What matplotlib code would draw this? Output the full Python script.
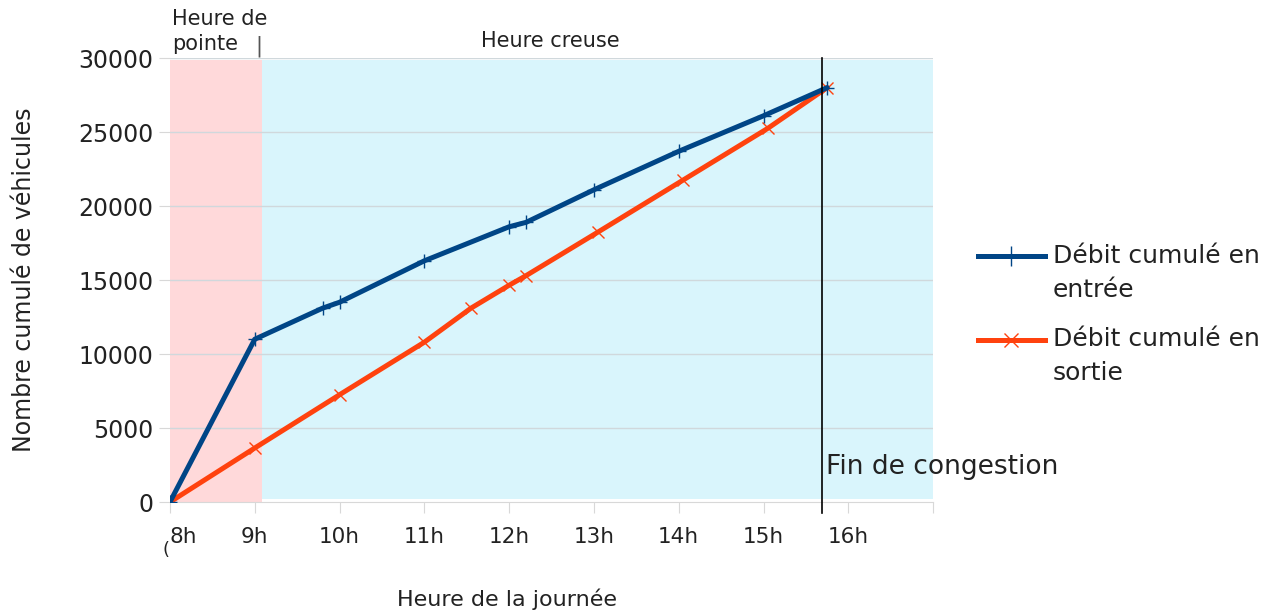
import matplotlib
matplotlib.use("Agg")
import matplotlib.pyplot as plt
from matplotlib.lines import Line2D
from matplotlib.transforms import ScaledTranslation

plt.rcParams['font.family'] = ['DejaVu Sans']

# Data
hours_in = [8, 9, 9.8, 10, 11, 12, 12.2, 13, 14, 15, 15.75]
cum_in = [0, 11000, 13100, 13500, 16300, 18600, 18900, 21100, 23700, 26100, 28000]
hours_out = [8, 9, 10, 11, 11.55, 12, 12.2, 13.05, 14.05, 15.05, 15.75]
cum_out = [0, 3650, 7250, 10800, 13100, 14650, 15300, 18250, 21750, 25250, 28000]
tick_hours = [8, 9, 10, 11, 12, 13, 14, 15, 16]
tick_labels = ["8h", "9h", "10h", "11h", "12h", "13h", "14h", "15h", "16h"]
y_ticks = [0, 5000, 10000, 15000, 20000, 25000, 30000]
peak_start, peak_end, offpeak_end = 8, 9.08, 17
congestion_end = 15.69

blue = '#004586'
red = '#ff420e'
text_c = '#222222'

fig = plt.figure(figsize=(12.72, 6.13), dpi=100)
ax = fig.add_axes([0.1336, 0.181, 0.6, 0.7243])

ax.axvspan(peak_start, peak_end, ymin=0, ymax=0.995, color='#ffd9da', lw=0, zorder=0)
ax.axvspan(peak_end, offpeak_end, ymin=0.007, ymax=0.995, color='#d9f5fc', lw=0, zorder=0)

for y in y_ticks[1:]:
    ax.axhline(y, color='#d0d8dc', lw=1, zorder=1)

ax.plot(hours_out, cum_out, color=red, lw=3.6, marker='x', ms=8, mew=1,
        zorder=3, solid_capstyle='round')
ax.plot(hours_in, cum_in, color=blue, lw=3.6, marker='+', ms=10, mew=1,
        zorder=4, solid_capstyle='round')

ax.axvline(congestion_end, ymin=-0.025, ymax=1.0, color='black', lw=1.2,
           zorder=5, clip_on=False)

ax.set_xlim(8, 17)
ax.set_ylim(0, 30000)
ax.set_xticks(tick_hours + [17])
ax.set_xticklabels(tick_labels + [""])
ax.set_yticks(y_ticks)
ax.set_yticklabels([str(v) for v in y_ticks])

for s in ['top', 'right', 'left']:
    ax.spines[s].set_visible(False)
ax.spines['bottom'].set_color('#d8d8d8')
ax.tick_params(axis='x', length=8, color='#d8d8d8', labelsize=15.5, pad=10,
               labelcolor=text_c)
ax.tick_params(axis='y', length=8, color='#d8d8d8', labelsize=17, pad=4,
               labelcolor=text_c)

# shift the first x tick label slightly right, as in the reference
first = ax.get_xticklabels()[0]
first.set_transform(first.get_transform() + ScaledTranslation(13 / 100, 0, fig.dpi_scale_trans))

ax.set_xlabel("Heure de la journée", fontsize=16, color=text_c)
ax.xaxis.set_label_coords(0.4417, -0.195)
ax.set_ylabel("Nombre cumulé de véhicules", fontsize=17, color=text_c, labelpad=30)

ax.text(8.02, 31950, "Heure de", fontsize=15, color=text_c, ha='left', va='bottom')
ax.text(8.02, 30300, "pointe", fontsize=15, color=text_c, ha='left', va='bottom')
ax.text(9.05, 30050, "|", fontsize=15, color='#555555', ha='center', va='bottom')
ax.text(12.49, 30500, "Heure creuse", fontsize=15, color=text_c,
        ha='center', va='bottom')
ax.text(congestion_end + 0.05, 2350, "Fin de congestion", fontsize=19,
        color=text_c, ha='left', va='center', clip_on=False)
ax.text(7.95, -3250, "(", fontsize=13, color=text_c, ha='center', va='center')

# Legend (manual to match layout)
def fx(px):
    return px / 1272.0

def fy(py):
    return 1 - py / 613.0

fig.add_artist(Line2D([fx(978), fx(1045)], [fy(256), fy(256)], color=blue, lw=3.6))
fig.add_artist(Line2D([fx(1011)], [fy(256)], color=blue, marker='+', ms=14, mew=1, lw=0))
fig.text(fx(1053), fy(244), "Débit cumulé en\nentrée", fontsize=18, color=text_c,
         ha='left', va='top', linespacing=1.55)
fig.add_artist(Line2D([fx(978), fx(1045)], [fy(340), fy(340)], color=red, lw=3.6))
fig.add_artist(Line2D([fx(1011)], [fy(340)], color=red, marker='x', ms=10, mew=1, lw=0))
fig.text(fx(1053), fy(327), "Débit cumulé en\nsortie", fontsize=18, color=text_c,
         ha='left', va='top', linespacing=1.55)

fig.savefig("out.png", dpi=100)
